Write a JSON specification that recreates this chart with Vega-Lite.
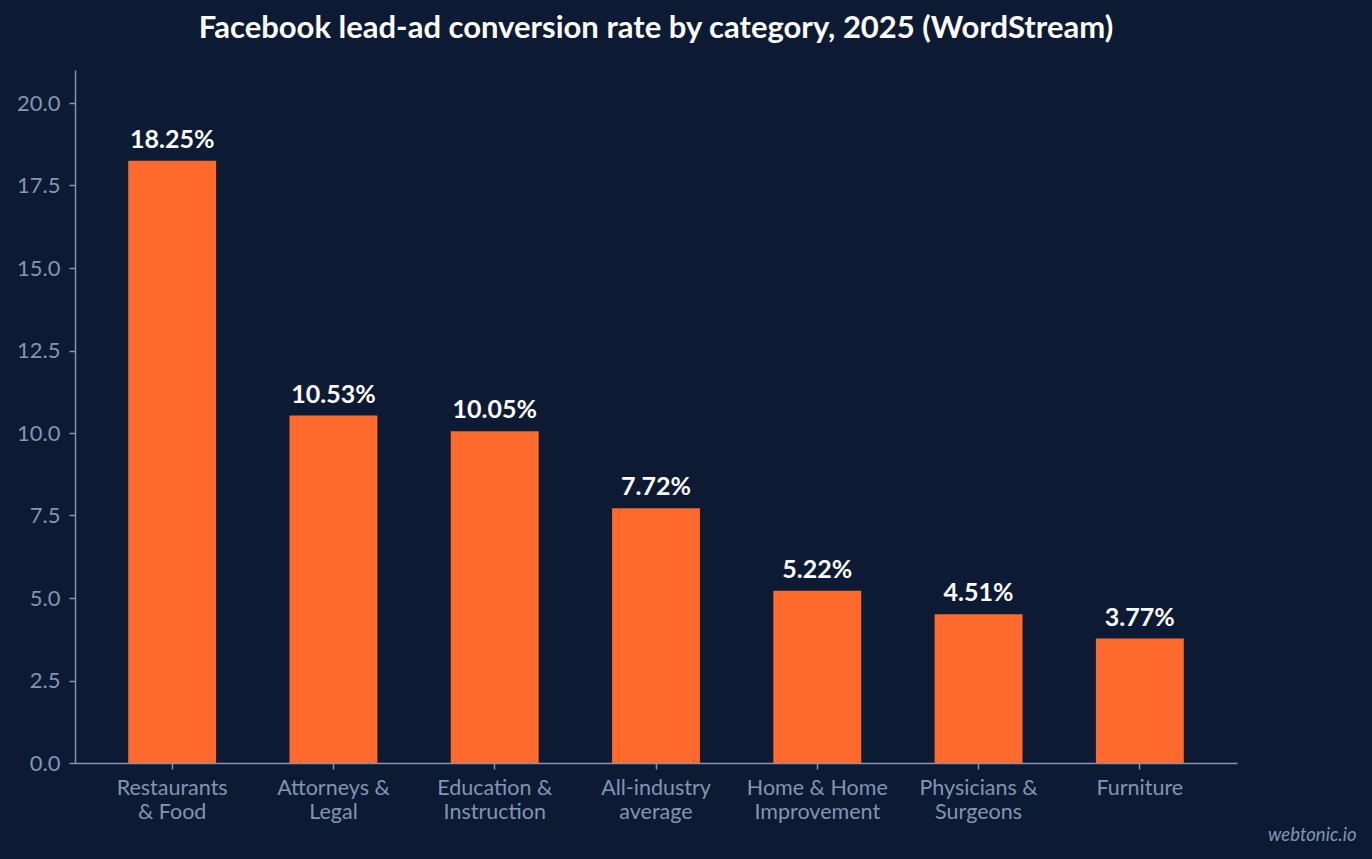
{
  "$schema": "https://vega.github.io/schema/vega-lite/v6.json",
  "autosize": "none",
  "width": 1162,
  "height": 693,
  "padding": {"left": 75, "top": 70, "right": 135, "bottom": 96},
  "background": "#0c1b33",
  "title": {
    "text": "Facebook lead-ad conversion rate by category, 2025 (WordStream)",
    "font": "Lato",
    "fontSize": 31,
    "fontWeight": "bold",
    "color": "#ffffff",
    "anchor": "middle",
    "offset": 25
  },
  "config": {
    "view": {"stroke": "transparent"},
    "font": "Lato"
  },
  "data": {
    "values": [
      {"category": "Restaurants|& Food", "rate": 18.25},
      {"category": "Attorneys &|Legal", "rate": 10.53},
      {"category": "Education &|Instruction", "rate": 10.05},
      {"category": "All-industry|average", "rate": 7.72},
      {"category": "Home & Home|Improvement", "rate": 5.22},
      {"category": "Physicians &|Surgeons", "rate": 4.51},
      {"category": "Furniture", "rate": 3.77}
    ]
  },
  "encoding": {
    "x": {
      "field": "category",
      "type": "nominal",
      "sort": null,
      "scale": {"paddingInner": 0.455, "paddingOuter": 0.33},
      "axis": {
        "title": "webtonic.io",
        "titleFont": "Lato",
        "titleFontStyle": "italic",
        "titleFontWeight": "normal",
        "titleFontSize": 18.5,
        "titleColor": "#8494b2",
        "titleAnchor": "end",
        "titleAlign": "right",
        "titleBaseline": "middle",
        "titleX": 1281,
        "titleY": 71,
        "labelExpr": "split(datum.label, '|')",
        "labelAngle": 0,
        "labelFontSize": 21.5,
        "labelColor": "#8494b2",
        "labelLineHeight": 24.5,
        "labelPadding": 8,
        "domainColor": "#8494b2",
        "domainWidth": 1.5,
        "tickColor": "#8494b2",
        "tickSize": 6,
        "tickWidth": 1.5
      }
    },
    "y": {
      "field": "rate",
      "type": "quantitative",
      "scale": {"domain": [0, 21], "nice": false},
      "axis": {
        "title": null,
        "grid": false,
        "values": [0, 2.5, 5, 7.5, 10, 12.5, 15, 17.5, 20],
        "format": ".1f",
        "labelFontSize": 22,
        "labelColor": "#8494b2",
        "labelPadding": 9,
        "domainColor": "#8494b2",
        "domainWidth": 1.5,
        "tickColor": "#8494b2",
        "tickSize": 6,
        "tickWidth": 1.5
      }
    }
  },
  "layer": [
    {"mark": {"type": "bar", "color": "#fe6a2c"}},
    {
      "transform": [
        {"calculate": "format(datum.rate, '.2f') + '%'", "as": "label"}
      ],
      "mark": {
        "type": "text",
        "baseline": "alphabetic",
        "dy": -13,
        "fontSize": 25,
        "fontWeight": "bold",
        "color": "#ffffff"
      },
      "encoding": {
        "text": {"field": "label", "type": "nominal"}
      }
    }
  ]
}
